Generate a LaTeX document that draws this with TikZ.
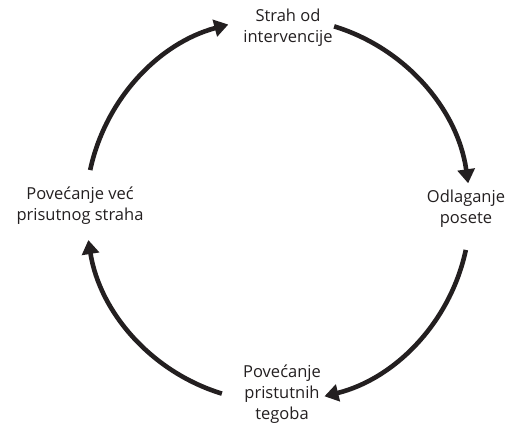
\documentclass[tikz,border=0pt]{standalone}
\usepackage{fontspec}
\setmainfont{Open Sans}
\usetikzlibrary{arrows.meta,calc}
\definecolor{ink}{HTML}{231F20}
\begin{document}
\begin{tikzpicture}[x=1pt,y=1pt,
  lbl/.style={align=center,text=ink,font=\fontsize{16.5}{21}\selectfont,inner sep=0pt},
  cyc/.style={draw=ink,line width=4.6pt,-{Triangle[length=14pt,width=17pt]}}]
\useasboundingbox (0,0) rectangle (511,425);
\coordinate (c) at (278,215);
\node[lbl] (top) at (288,397) {Strah od\\intervencije};
\node[lbl] (right) at (466,216) {Odlaganje\\posete};
\node[lbl] (bottom) at (282,31) {Povećanje\\pristutnih\\tegoba};
\node[lbl] (left) at (80,219) {Povećanje već\\prisutnog straha};
\coordinate (s1) at ($(c)+(168:192)$);
\coordinate (s2) at ($(c)+(73:192)$);
\coordinate (s3) at ($(c)+(-12:192)$);
\coordinate (s4) at ($(c)+(-107:192)$);
\draw[cyc] (s1) arc[start angle=168,end angle=105,radius=192];
\draw[cyc] (s2) arc[start angle=73,end angle=8,radius=192];
\draw[cyc] (s3) arc[start angle=-12,end angle=-76,radius=192];
\draw[cyc] (s4) arc[start angle=-107,end angle=-171,radius=192];
\end{tikzpicture}
\end{document}
